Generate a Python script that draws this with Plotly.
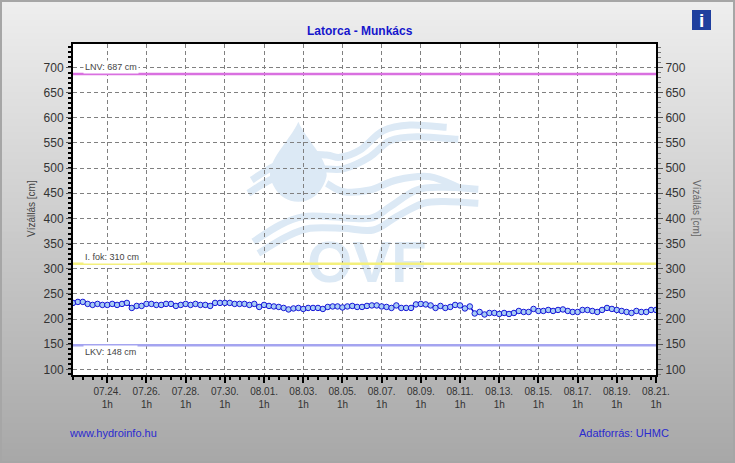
"""Latorca - Munkács water level chart, rebuilt with plotly."""
import pandas as pd
import plotly.graph_objects as go

W, H = 735, 463
PLOT_L, PLOT_R, PLOT_T, PLOT_B = 73, 656, 43.5, 375

FONT = "Liberation Sans"
BLUE_TEXT = "#2a2ad0"
GRID = "#808080"
WATERMARK = "#dce9f5"

START = "2023-07-22 07:00"
END = "2023-08-21 01:00"

# water level every 6 hours, cm
levels = [
    232, 234, 234, 230, 228, 230, 228, 228, 230, 228, 230, 232, 222, 226, 226,
    230, 230, 228, 228, 230, 230, 226, 228, 230, 228, 230, 228, 228, 226, 232,
    232, 232, 232, 230, 230, 230, 228, 230, 224, 228, 226, 225, 224, 222, 219,
    221, 222, 220, 222, 222, 222, 220, 224, 225, 225, 223, 225, 226, 224, 224,
    226, 227, 227, 225, 224, 222, 227, 222, 222, 222, 229, 230, 229, 227, 222,
    226, 222, 224, 228, 227, 221, 225, 211, 214, 209, 212, 212, 210, 212, 210,
    212, 216, 214, 214, 220, 216, 216, 218, 216, 218, 219, 216, 214, 214, 218,
    218, 216, 214, 218, 222, 220, 218, 216, 214, 212, 216, 214, 214, 218, 218,
]

date_ticks = [
    "07-24", "07-26", "07-28", "07-30", "08-01", "08-03", "08-05", "08-07",
    "08-09", "08-11", "08-13", "08-15", "08-17", "08-19", "08-21",
]
date_labels = [
    "07.24.", "07.26.", "07.28.", "07.30.", "08.01.", "08.03.", "08.05.", "08.07.",
    "08.09.", "08.11.", "08.13.", "08.15.", "08.17.", "08.19.", "08.21.",
]
level_ticks = [100, 150, 200, 250, 300, 350, 400, 450, 500, 550, 600, 650, 700]
level_range = [88.7, 747.7]

limit_names = ["LNV: 687 cm", "I. fok: 310 cm", "LKV: 148 cm"]
limit_values = [687, 310, 148]
limit_colors = ["#d970e0", "#f4f07c", "#a4a4f0"]

times = pd.date_range(START, periods=len(levels), freq="6h")
x_tickvals = [f"2023-{d} 01:00" for d in date_ticks]
x_ticktext = [f"{t}<br>1h" for t in date_labels]
x_minor = pd.date_range(START, END, freq="12h").strftime("%Y-%m-%d %H:%M").tolist()
y_minor = list(range(90, 750, 10))


def px(x):
    return x / W


def py(y):
    return 1 - y / H


def rect(x0, y0, x1, y1, **kw):
    return dict(type="rect", xref="paper", yref="paper", layer="below",
                x0=px(x0), x1=px(x1), y0=py(y0), y1=py(y1), **kw)


def path_str(points):
    """Catmull-Rom through pixel points, as an svg path in paper coordinates."""
    pts = [(px(x), py(y)) for x, y in points]
    out = f"M {pts[0][0]:.5f} {pts[0][1]:.5f}"
    for i in range(len(pts) - 1):
        p0 = pts[max(i - 1, 0)]
        p1, p2 = pts[i], pts[i + 1]
        p3 = pts[min(i + 2, len(pts) - 1)]
        c1 = (p1[0] + (p2[0] - p0[0]) / 6, p1[1] + (p2[1] - p0[1]) / 6)
        c2 = (p2[0] - (p3[0] - p1[0]) / 6, p2[1] - (p3[1] - p1[1]) / 6)
        out += (f" C {c1[0]:.5f} {c1[1]:.5f} {c2[0]:.5f} {c2[1]:.5f}"
                f" {p2[0]:.5f} {p2[1]:.5f}")
    return out


def logo(z_points):
    return [(230 + x / 3, 100 + y / 3) for x, y in z_points]


shapes = []

# background gradient
bands = 70
for i in range(bands):
    g = round(238 - 70 * i / (bands - 1))
    shapes.append(rect(0, H * i / bands, W, H * (i + 1) / bands + 1,
                       fillcolor=f"rgb({g},{g},{g})", line_width=0))
shapes.append(rect(PLOT_L, PLOT_T, PLOT_R, PLOT_B, fillcolor="white", line_width=0))

# watermark
waves = [
    [(65, 240), (130, 200), (210, 165), (290, 165), (330, 172), (390, 150),
     (460, 92), (540, 75), (650, 82)],
    [(55, 280), (120, 240), (210, 205), (290, 207), (345, 205), (420, 170),
     (480, 122), (560, 110), (685, 118)],
    [(290, 250), (340, 275), (420, 270), (500, 240), (600, 230), (685, 262)],
    [(70, 425), (150, 375), (220, 350), (300, 350), (420, 355), (480, 320),
     (560, 270), (640, 262), (745, 268)],
    [(85, 460), (170, 410), (240, 385), (340, 385), (430, 390), (500, 350),
     (580, 310), (660, 305), (745, 310)],
]
for wave in waves:
    shapes.append(dict(type="path", xref="paper", yref="paper", layer="below",
                       path=path_str(logo(wave)), line=dict(color=WATERMARK, width=7)))
drop = logo([(205, 65), (120, 225), (205, 305), (290, 225)])
dx = [px(x) for x, _ in drop]
dy = [py(y) for _, y in drop]
shapes.append(dict(
    type="path", xref="paper", yref="paper", layer="below", fillcolor=WATERMARK, line_width=0,
    path=(f"M {dx[0]} {dy[0]} "
          f"C {dx[0]-0.011} {dy[0]-0.04} {dx[1]} {dy[1]+0.04} {dx[1]} {dy[1]} "
          f"C {dx[1]} {dy[2]+0.05} {dx[2]-0.03} {dy[2]} {dx[2]} {dy[2]} "
          f"C {dx[2]+0.03} {dy[2]} {dx[3]} {dy[2]+0.05} {dx[3]} {dy[3]} "
          f"C {dx[3]} {dy[3]+0.04} {dx[0]+0.011} {dy[0]-0.04} {dx[0]} {dy[0]} Z"),
))

# info icon
shapes.append(rect(692, 10, 711, 30, fillcolor="#1f3f9e", line_width=0))
# page frame
shapes.append(rect(1, 1, W - 1, H - 1, line=dict(color="#a6a6a6", width=2)))

fig = go.Figure()

# first subplot only holds the OVF text, so the grid of the second one lies over it
fig.add_trace(go.Scatter(
    x=["2023-08-06 07:00"], y=[303], mode="text", text=["OVF"],
    textfont=dict(family=FONT, size=58, color=WATERMARK, weight="bold"),
    xaxis="x", yaxis="y", hoverinfo="skip", showlegend=False,
))

for name, value, color in zip(limit_names, limit_values, limit_colors):
    fig.add_trace(go.Scatter(
        x=[START, END], y=[value, value], mode="lines", name=name,
        line=dict(color=color, width=2.5), xaxis="x2", yaxis="y2", showlegend=False,
    ))

fig.add_trace(go.Scatter(
    x=times, y=levels, mode="lines+markers", name="Vízállás",
    line=dict(color="#0000d0", width=1.5),
    marker=dict(size=5.5, color="#a8ccf4", line=dict(color="#1414d8", width=1)),
    xaxis="x2", yaxis="y2", showlegend=False,
))

# right side axis needs something on it to be drawn
fig.add_trace(go.Scatter(
    x=[START], y=[level_ticks[0]], mode="markers", marker=dict(opacity=0),
    xaxis="x2", yaxis="y3", hoverinfo="skip", showlegend=False,
))

dom_x = [px(PLOT_L), px(PLOT_R)]
dom_y = [py(PLOT_B), py(PLOT_T)]
tick_font = dict(family=FONT, size=12, color="#333333")

fig.update_layout(
    width=W, height=H,
    margin=dict(l=0, r=0, t=0, b=0),
    paper_bgcolor="rgba(0,0,0,0)",
    plot_bgcolor="rgba(0,0,0,0)",
    font=dict(family=FONT),
    shapes=shapes,
    xaxis=dict(domain=dom_x, range=[START, END], type="date", visible=False, anchor="y",
               automargin=False),
    yaxis=dict(domain=dom_y, range=level_range, visible=False, anchor="x", automargin=False),
    xaxis2=dict(
        domain=dom_x, range=[START, END], type="date", anchor="y2", automargin=False,
        tickmode="array", tickvals=x_tickvals, ticktext=x_ticktext,
        tickfont=dict(family=FONT, size=10, color="#333333"),
        ticks="outside", ticklen=6, tickwidth=2, tickcolor="black",
        showline=True, linecolor="black", linewidth=2, mirror=True,
        showgrid=True, gridcolor=GRID, griddash="4px,3px", gridwidth=1,
        minor=dict(tickmode="array", tickvals=x_minor, ticks="outside", ticklen=3,
                   tickwidth=2, tickcolor="black", showgrid=False),
    ),
    yaxis2=dict(
        domain=dom_y, range=level_range, anchor="x2", automargin=False,
        tickmode="array", tickvals=level_ticks, tickfont=tick_font,
        ticks="outside", ticklen=5, tickwidth=1, tickcolor="#555555",
        showline=True, linecolor="black", linewidth=2,
        showgrid=True, gridcolor=GRID, griddash="4px,3px", gridwidth=1, zeroline=False,
        minor=dict(tickmode="array", tickvals=y_minor, ticks="outside", ticklen=3,
                   tickwidth=2, tickcolor="black", showgrid=False),
    ),
    yaxis3=dict(
        domain=dom_y, range=level_range, anchor="x2", overlaying="y2", side="right",
        automargin=False,
        tickmode="array", tickvals=level_ticks, tickfont=tick_font,
        ticks="outside", ticklen=5, tickwidth=1, tickcolor="#555555",
        showline=True, linecolor="black", linewidth=2,
        showgrid=False, zeroline=False,
        minor=dict(tickmode="array", tickvals=y_minor, ticks="outside", ticklen=3,
                   tickwidth=1, tickcolor="#777777", showgrid=False),
    ),
)


def note(text, x, y, size=10, color="#333333", anchor="center", **kw):
    fig.add_annotation(text=text, xref="paper", yref="paper", x=px(x), y=py(y),
                       xanchor=anchor, yanchor="middle", showarrow=False,
                       font=dict(family=FONT, size=size, color=color), **kw)


note("<b>Latorca - Munkács</b>", 360, 31, size=12, color="#1616cc")
note("Vízállás [cm]", 31, 208, textangle=-90, color="#444444")
note("Vízállás [cm]", 697, 208, textangle=90, color="#666666")
note("www.hydroinfo.hu", 67, 433, size=11, color=BLUE_TEXT, anchor="left")
note("Adatforrás: UHMC", 577, 433, size=11, color=BLUE_TEXT, anchor="left")
note("<b>i</b>", 701.5, 20, size=19, color="white")
note(limit_names[0], 83, 66.5, size=9, color="#444444", anchor="left", bgcolor="white")
note(limit_names[1], 83, 256.5, size=9, color="#444444", anchor="left", bgcolor="white")
note(limit_names[2], 83, 352, size=9, color="#444444", anchor="left", bgcolor="white")

# the page's default body margin would push the figure out of the window
fig.write_html(
    "out.html",
    config={"displayModeBar": False, "responsive": False},
    default_width=f"{W}px",
    default_height=f"{H}px",
    post_script="document.body.style.margin='0';",
)
